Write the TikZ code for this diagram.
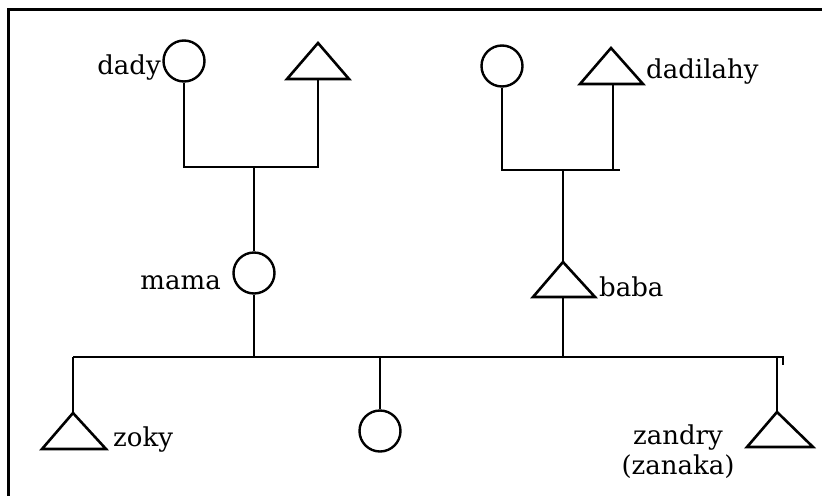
\documentclass[tikz,border=0pt]{standalone}
\usepackage{fontspec}
\setmainfont{DejaVu Serif}
\begin{document}
\begin{tikzpicture}[x=1pt,y=-1pt,
  female/.style={draw,circle,line width=2.4pt,minimum size=41pt,inner sep=0pt},
  male/.style={draw,line width=2.6pt,line join=miter},
  link/.style={line width=2.4pt},
  lbl/.style={font=\fontsize{26}{30}\selectfont,inner sep=0pt}]
\useasboundingbox (0,0) rectangle (822,496);
% frame (top and left edges only)
\draw[line width=3.5pt] (822,9.5) -- (8.5,9.5) -- (8.5,496);

% generation 1, left couple
\node[female] (dady) at (184,61) {};
\coordinate (t1a) at (318,43);
\draw[male] (287,79) -- (t1a) -- (349,79) -- cycle;
\coordinate (t1b) at (318,79);
% generation 1, right couple
\node[female] (c2) at (502,66) {};
\coordinate (t2a) at (611,48);
\draw[male] (580,84) -- (t2a) -- (643,84) -- cycle;
\coordinate (t2b) at (613,84);

% generation 2
\node[female] (mama) at (254,273) {};
\coordinate (t3a) at (563,262);
\draw[male] (533,297) -- (t3a) -- (595,297) -- cycle;
\coordinate (t3b) at (563,297);

% generation 3
\coordinate (t4a) at (73,413);
\draw[male] (42,449) -- (t4a) -- (106,449) -- cycle;
\node[female] (c3) at (380,431) {};
\coordinate (t5a) at (777,412);
\draw[male] (747,447) -- (t5a) -- (813,447) -- cycle;

% junction coordinates
\coordinate (j1) at (254,167);
\coordinate (j2) at (563,170);
\coordinate (hL) at (73,357);
\coordinate (hR) at (783,357);

% connectors
\draw[link] (dady.south) |- (j1) -| (t1b);
\draw[link] (j1) -- (mama.north);
\draw[link] (c2.south) |- (j2) -- (620,170);
\draw[link] (t2b) -- (613,170);
\draw[link] (j2) -- (t3a);
\draw[link] (mama.south) -- (254,357);
\draw[link] (t3b) -- (563,357);
\draw[link] (hL) -- (hR) -- (783,365);
\draw[link] (hL) -- (t4a);
\draw[link] (380,357) -- (c3.north);
\draw[link] (777,357) -- (t5a);

% labels
\node[lbl,anchor=east] (ldady) at (161,68) {dady};
\node[lbl,anchor=west] (ldad) at (646,72) {dadilahy};
\node[lbl,anchor=east] (lmama) at (221,283) {mama};
\node[lbl,anchor=west] (lbaba) at (599,287) {baba};
\node[lbl,anchor=west] (lzoky) at (113,440) {zoky};
\node[lbl,align=center] (lzan) at (678,452) {zandry\\(zanaka)};
\end{tikzpicture}
\end{document}
